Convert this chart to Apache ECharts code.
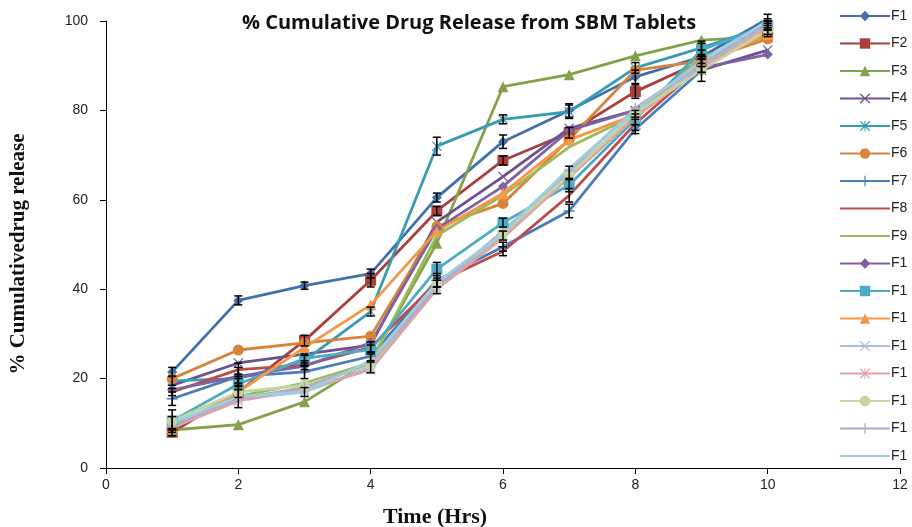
<!DOCTYPE html>
<html>
<head>
<meta charset="utf-8">
<script src="https://cdn.jsdelivr.net/npm/echarts@6/dist/echarts.min.js"></script>
<style>
  html, body { margin: 0; padding: 0; background: #fff; }
  #chart { width: 912px; height: 527px; }
</style>
</head>
<body>
<div id="chart"></div>
<script>
// Sampling times (hours)
const hours = [1, 2, 3, 4, 5, 6, 7, 8, 9, 10];

// % cumulative drug release per formulation
const F1  = [21.5, 37.5, 40.8, 43.5, 60.5, 73.0, 80.0, 87.5, 92.0, 100.5];
const F2  = [8.0, 17.0, 28.5, 42.0, 57.5, 68.8, 75.0, 84.2, 91.0, 97.5];
const F3  = [8.5, 9.7, 14.8, 24.0, 50.3, 85.3, 88.0, 92.2, 95.7, 96.5];
const F4  = [18.5, 23.5, 25.5, 27.5, 55.0, 65.2, 76.0, 80.0, 89.0, 93.5];
const F5  = [19.5, 20.0, 24.0, 35.0, 72.0, 78.0, 79.7, 89.5, 94.0, 99.0];
const F6  = [20.0, 26.4, 28.0, 29.5, 54.0, 59.2, 73.5, 89.0, 91.0, 96.0];
const F7  = [15.5, 20.5, 21.5, 25.0, 42.0, 49.5, 57.5, 75.8, 89.0, 99.5];
const F8  = [17.0, 22.0, 23.0, 27.0, 41.5, 48.5, 61.0, 77.0, 90.0, 98.0];
const F9  = [9.5, 16.0, 19.0, 23.5, 52.0, 61.0, 71.8, 79.0, 92.0, 96.5];
const F10 = [17.5, 20.5, 22.8, 28.0, 53.5, 63.0, 75.5, 80.0, 89.5, 92.5];
const F11 = [10.5, 18.8, 24.5, 26.5, 44.5, 54.9, 63.3, 78.0, 93.5, 99.0];
const F12 = [9.0, 17.0, 27.0, 36.5, 53.0, 61.5, 73.4, 79.0, 90.5, 97.0];
const F13 = [10.0, 15.5, 17.0, 22.5, 40.5, 52.0, 66.0, 79.0, 90.0, 99.0];
const F14 = [9.0, 15.0, 17.5, 22.0, 40.0, 51.5, 65.0, 78.5, 89.5, 98.5];
const F15 = [10.5, 17.0, 18.5, 23.0, 41.0, 52.5, 65.5, 79.5, 89.0, 98.0];
const F16 = [9.5, 15.5, 18.0, 23.5, 40.5, 53.0, 66.5, 80.5, 90.5, 99.5];
const F17 = [10.0, 16.0, 17.0, 24.0, 41.5, 52.5, 67.0, 80.0, 91.0, 100.0];

// Standard deviations (error bars) for the formulations that show them
const F1_sd  = [1.0, 1.0, 0.8, 1.0, 1.0, 1.5, 1.5, 1.5, 1.5, 1.0];
const F2_sd  = [0.8, 1.2, 1.2, 1.5, 1.0, 1.0, 1.2, 1.5, 1.2, 1.0];
const F5_sd  = [1.0, 1.0, 1.2, 1.0, 2.0, 1.0, 1.5, 1.2, 1.5, 1.0];
const F7_sd  = [1.5, 2.0, 1.5, 1.0, 1.5, 1.0, 1.5, 1.0, 2.5, 1.0];
const F8_sd  = [0.8, 1.5, 1.0, 1.2, 1.0, 1.0, 1.5, 1.5, 1.5, 1.0];
const F11_sd = [2.5, 1.2, 1.0, 1.0, 1.5, 1.0, 1.5, 1.2, 1.5, 1.0];
const F13_sd = [1.5, 2.0, 1.0, 1.2, 1.5, 1.0, 1.5, 1.0, 1.5, 1.0];

// Axis ticks
const xTicks = [0, 2, 4, 6, 8, 10, 12];
const yTicks = [0, 20, 40, 60, 80, 100];

const names = ['F1','F2','F3','F4','F5','F6','F7','F8','F9','F10','F11','F12','F13','F14','F15','F16','F17'];
const values = [F1,F2,F3,F4,F5,F6,F7,F8,F9,F10,F11,F12,F13,F14,F15,F16,F17];
const colors = ['#4170AD','#A9403D','#84A24A','#6B5290','#3A9BB5','#D9833A',
                '#4A7EBB','#BE4B48','#9BBB59','#7E62A1','#4BACC6','#F79646',
                '#A7BEDE','#DDA5A3','#C3D6A2','#B5A8CB','#9ECFDD'];

const PLUS = 'path://M4.4,0H5.6V4.4H10V5.6H5.6V10H4.4V5.6H0V4.4H4.4Z';
const CROSS = 'path://M0.8,0L10,9.2L9.2,10L0,0.8Z M9.2,0L10,0.8L0.8,10L0,9.2Z';
const STAR = 'path://M4.5,0H5.5V10H4.5Z M0.8,0L10,9.2L9.2,10L0,0.8Z M9.2,0L10,0.8L0.8,10L0,9.2Z';
const markers = ['diamond','rect','triangle',CROSS,STAR,'circle',PLUS,'none','none',
                 'diamond','rect','triangle',CROSS,STAR,'circle',PLUS,'none'];
const sizes = [10,11,11,10,10,11,11,0,0,10,11,11,10,10,11,11,0];

const errorSets = [[F1,F1_sd],[F2,F2_sd],[F5,F5_sd],[F7,F7_sd],[F8,F8_sd],[F11,F11_sd],[F13,F13_sd]];

const lineSeries = names.map((n, i) => ({
  name: n,
  type: 'line',
  data: hours.map((h, k) => [h, values[i][k]]),
  symbol: markers[i],
  symbolSize: sizes[i],
  showSymbol: markers[i] !== 'none',
  lineStyle: { width: 2.8, color: colors[i] },
  itemStyle: { color: colors[i] },
  emphasis: { disabled: true },
  animation: false,
  z: 2
}));

const errData = [];
errorSets.forEach(([v, sd]) => {
  hours.forEach((h, k) => errData.push([h, v[k] - sd[k], v[k] + sd[k]]));
});

const errorSeries = {
  type: 'custom',
  name: 'sd',
  data: errData,
  encode: { x: 0, y: [1, 2] },
  z: 3,
  silent: true,
  animation: false,
  renderItem: (params, api) => {
    const lo = api.coord([api.value(0), api.value(1)]);
    const hi = api.coord([api.value(0), api.value(2)]);
    const cap = 4;
    const st = { stroke: '#000', lineWidth: 1.5 };
    return {
      type: 'group',
      children: [
        { type: 'line', shape: { x1: lo[0], y1: lo[1], x2: hi[0], y2: hi[1] }, style: st },
        { type: 'line', shape: { x1: lo[0]-cap, y1: lo[1], x2: lo[0]+cap, y2: lo[1] }, style: st },
        { type: 'line', shape: { x1: hi[0]-cap, y1: hi[1], x2: hi[0]+cap, y2: hi[1] }, style: st }
      ]
    };
  }
};

// Legend entries: plain-line series get no marker in their key
const legendData = names.map((n, i) => markers[i] === 'none'
  ? { name: n, itemStyle: { opacity: 0 } }
  : { name: n });

const chart = echarts.init(document.getElementById('chart'), null, { renderer: 'canvas' });
chart.setOption({
  animation: false,
  backgroundColor: '#fff',
  title: {
    text: '% Cumulative Drug Release from SBM Tablets',
    left: 464, top: 8, textAlign: 'center',
    textStyle: { fontFamily: 'Open Sans', fontWeight: 'bold', fontSize: 20, color: '#111' }
  },
  grid: { left: 106, right: 12, top: 21, bottom: 59, containLabel: false },
  legend: {
    orient: 'vertical',
    left: 834, top: 4,
    itemWidth: 50, itemHeight: 13, itemGap: 13.5,
    data: legendData,
    formatter: n => n.slice(0, 2),
    textStyle: { fontFamily: 'Liberation Sans', fontSize: 14, color: '#222', lineHeight: 13, padding: [0,0,0,-4] }
  },
  xAxis: {
    type: 'value', min: xTicks[0], max: xTicks[xTicks.length-1], interval: 2,
    axisLine: { lineStyle: { color: '#000', width: 1 } },
    axisTick: { show: true, length: 6, lineStyle: { color: '#000' } },
    axisLabel: { fontFamily: 'Liberation Sans', fontSize: 14, color: '#222', margin: 10 },
    splitLine: { show: false }
  },
  yAxis: {
    type: 'value', min: yTicks[0], max: yTicks[yTicks.length-1], interval: 20,
    axisLine: { show: true, lineStyle: { color: '#000', width: 1 } },
    axisTick: { show: true, length: 6, lineStyle: { color: '#000' } },
    axisLabel: { fontFamily: 'Liberation Sans', fontSize: 14, color: '#222', margin: 18 },
    splitLine: { show: false }
  },
  graphic: [
    {
      type: 'text', x: 435, y: 517,
      style: { text: 'Time (Hrs)', fontFamily: 'Liberation Serif', fontWeight: 'bold', fontSize: 22, fill: '#111', textAlign: 'center', textVerticalAlign: 'middle' }
    },
    {
      type: 'text', x: 8, y: 254, rotation: Math.PI / 2,
      style: { text: '% Cumulativedrug release', fontFamily: 'Liberation Serif', fontWeight: 'bold', fontSize: 21, fill: '#111', textAlign: 'center', textVerticalAlign: 'top' }
    }
  ],
  series: [...lineSeries, errorSeries]
});
</script>
</body>
</html>
